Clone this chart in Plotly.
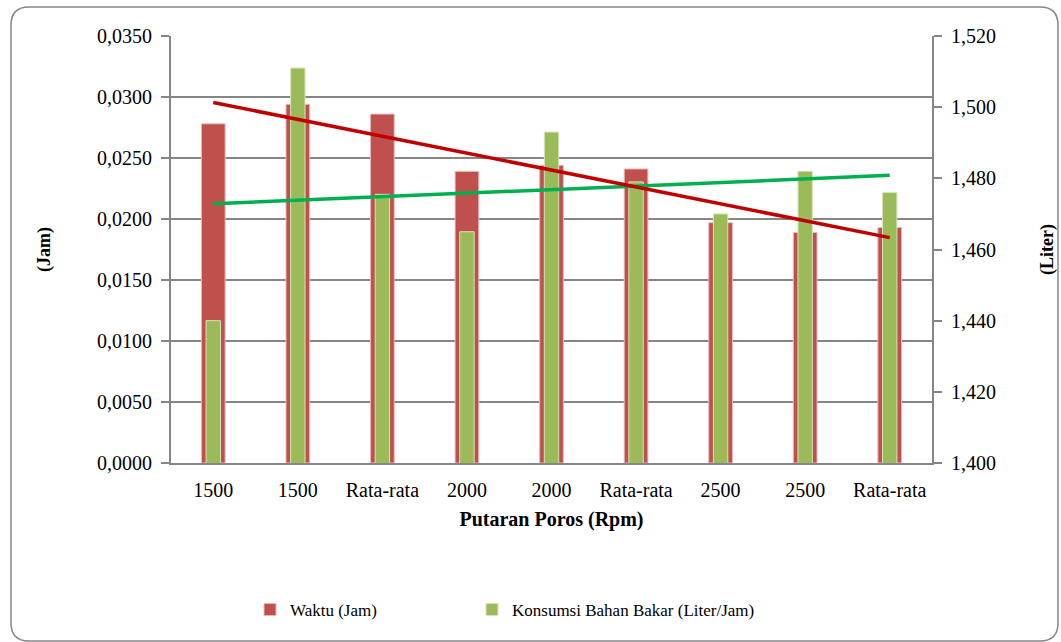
import numpy as np
import plotly.graph_objects as go

# Categories along the shaft-speed axis
labels = ["1500", "1500", "Rata-rata", "2000", "2000", "Rata-rata", "2500", "2500", "Rata-rata"]
positions = list(range(1, len(labels) + 1))

# Time per test (hours) - left axis
waktu = [0.0278, 0.0294, 0.0286, 0.0239, 0.0244, 0.0241, 0.0197, 0.0189, 0.0193]
# Fuel consumption (liter/hour) - right axis
konsumsi = [1.440, 1.511, 1.4755, 1.465, 1.493, 1.479, 1.470, 1.482, 1.476]

# Tick values for both value axes
y1_ticks = [0.0, 0.005, 0.010, 0.015, 0.020, 0.025, 0.030, 0.035]
y2_ticks = [1.400, 1.420, 1.440, 1.460, 1.480, 1.500, 1.520]

# Linear trendlines fitted to each series
xs = np.array(positions, dtype=float)
a1, b1 = np.polyfit(xs, np.array(waktu), 1)
a2, b2 = np.polyfit(xs, np.array(konsumsi), 1)
trend_waktu = a1 * xs + b1
trend_konsumsi = a2 * xs + b2

FONT = "Liberation Serif, Times New Roman, serif"
GRID = "#868686"

fig = go.Figure()
fig.add_trace(go.Bar(
    x=positions, y=waktu, name="Waktu (Jam)", width=0.28,
    marker=dict(color="#C0504D", line=dict(color="#E6B9B8", width=1)),
    yaxis="y", legend="legend",
))
fig.add_trace(go.Bar(
    x=positions, y=konsumsi, name="Konsumsi Bahan Bakar (Liter/Jam)", width=0.17,
    marker=dict(color="#9BBB59", line=dict(color="#D7E4BD", width=1)),
    yaxis="y2", legend="legend2",
))
fig.add_trace(go.Scatter(
    x=positions, y=trend_konsumsi, mode="lines", showlegend=False,
    line=dict(color="#00B050", width=3.5), yaxis="y2", hoverinfo="skip",
))
fig.add_trace(go.Scatter(
    x=positions, y=trend_waktu, mode="lines", showlegend=False,
    line=dict(color="#C00000", width=3.5), yaxis="y3", hoverinfo="skip",
))

L, R, T, B = 171, 129, 36, 179
W, H = 1061, 642
pw, ph = W - L - R, H - T - B


def px(x):
    return (x - L) / pw


def py(y):
    return (H - B - y) / ph


# Rounded chart-area frame
x0, x1, yt, yb, r = 11, 1058, 7, 641, 18
frame = (
    f"M {px(x0 + r)},{py(yt)} L {px(x1 - r)},{py(yt)} "
    f"Q {px(x1)},{py(yt)} {px(x1)},{py(yt + r)} "
    f"L {px(x1)},{py(yb - r)} Q {px(x1)},{py(yb)} {px(x1 - r)},{py(yb)} "
    f"L {px(x0 + r)},{py(yb)} Q {px(x0)},{py(yb)} {px(x0)},{py(yb - r)} "
    f"L {px(x0)},{py(yt + r)} Q {px(x0)},{py(yt)} {px(x0 + r)},{py(yt)} Z"
)

legend_common = dict(
    orientation="h", xanchor="left", yanchor="middle", y=py(610),
    font=dict(family=FONT, size=17, color="black"),
    bgcolor="rgba(0,0,0,0)",
)

fig.update_layout(
    width=W, height=H,
    margin=dict(l=L, r=R, t=T, b=B, autoexpand=False),
    paper_bgcolor="white", plot_bgcolor="white",
    separators=",.",
    barmode="overlay",
    font=dict(family=FONT, color="black", size=20),
    xaxis=dict(
        range=[0.5, 9.5], tickvals=positions, ticktext=labels,
        showline=True, linecolor=GRID, linewidth=2, ticks="",
        showgrid=False, zeroline=False, ticklabelstandoff=8, automargin=False,
        tickfont=dict(family=FONT, size=20),
        title=dict(text="<b>Putaran Poros (Rpm)</b>", font=dict(family=FONT, size=20), standoff=12),
    ),
    yaxis=dict(
        range=[0, 0.035], tickvals=y1_ticks, tickformat=".4f",
        showline=True, linecolor=GRID, linewidth=2,
        ticks="outside", ticklen=8, tickcolor=GRID, tickwidth=2,
        showgrid=True, gridcolor=GRID, gridwidth=2, zeroline=False,
        ticklabelstandoff=5, automargin=False, tickfont=dict(family=FONT, size=20),
        title=dict(text="<b>(Jam)</b>", font=dict(family=FONT, size=18), standoff=42),
    ),
    yaxis2=dict(
        range=[1.4, 1.52], tickvals=y2_ticks, tickformat=".3f",
        overlaying="y", side="right",
        showline=True, linecolor=GRID, linewidth=2,
        ticks="outside", ticklen=8, tickcolor=GRID, tickwidth=2,
        showgrid=False, zeroline=False, automargin=False,
        ticklabelstandoff=5, tickfont=dict(family=FONT, size=20),
        title=dict(text="<b>(Liter)</b>", font=dict(family=FONT, size=18), standoff=45),
    ),
    yaxis3=dict(
        range=[0, 0.035], overlaying="y", visible=False,
    ),
    legend=dict(x=px(250), **legend_common),
    legend2=dict(x=px(472), **legend_common),
    shapes=[dict(type="path", xref="paper", yref="paper", path=frame,
                 line=dict(color=GRID, width=1.5), fillcolor="rgba(0,0,0,0)",
                 layer="below")],
)

fig.write_html("out.html")
